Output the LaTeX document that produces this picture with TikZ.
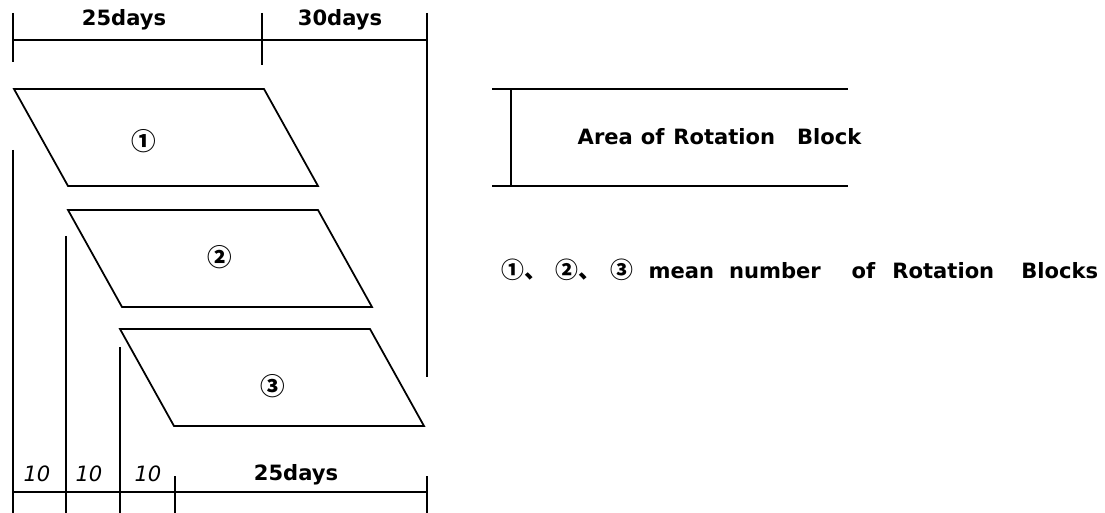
\documentclass[tikz,border=0pt]{standalone}
\usepackage{fontspec}
\setmainfont{DejaVu Sans}
\newfontfamily\cjk{Noto Sans CJK JP}
\usetikzlibrary{positioning}

\begin{document}
\begin{tikzpicture}[x=0.02cm, y=-0.02cm, line width=0.8pt,
    lbl/.style={font=\bfseries\fontsize{12}{14}\selectfont, inner sep=0pt},
    num/.style={font=\itshape\fontsize{12}{14}\selectfont, inner sep=0pt},
    circ/.style={font=\cjk\bfseries\fontsize{14}{16}\selectfont, inner sep=0pt},
    block/.style={line width=1pt},
    dim/.style={line width=0.6pt}]
  \useasboundingbox (0,0) rectangle (1105,513);
  % top dimension: 25days + 30days
  \draw (13,13) -- (13,62);
  \draw (262,13) -- (262,65);
  \draw (427,13) -- (427,377);
  \draw[dim] (13,40) -- (427,40);
  \node[lbl] (top25) at (124,20) {25days};
  \node[lbl] (top30) at (340,20) {30days};
  % rotation blocks
  \foreach \dx/\dy in {0/0, 54/121, 106/240} {
    \draw[block] (14+\dx,89+\dy) -- ++(250,0) -- ++(54,97) -- ++(-250,0) -- cycle;
  }
  \node[circ] (b1) at (144,141) {①};
  \node[circ] (b2) at (220,257) {②};
  \node[circ] (b3) at (273,386) {③};
  % left extension lines, 10 days apart
  \draw (13,150) -- (13,513);
  \draw (66,236) -- (66,513);
  \draw (120,347) -- (120,513);
  \draw (175,476) -- (175,513);
  \draw (427,476) -- (427,513);
  \draw[dim] (13,492) -- (427,492);
  \node[num] (d1) at (37,474) {10};
  \node[num] (d2) at (89,474) {10};
  \node[num] (d3) at (148,474) {10};
  \node[lbl] (bot25) at (296,475) {25days};
  % legend
  \draw (492,89) -- (848,89);
  \draw (492,186) -- (848,186);
  \draw (511,89) -- (511,186);
  \node[lbl, anchor=base west] (area) at (577,145)
    {Area\hspace{4.5pt}of\hspace{5pt}Rotation\hspace{12.5pt}Block};
  \node[lbl, anchor=base west] (mean) at (501,278)
    {{\cjk\fontsize{13}{15}\selectfont ①、\hspace{4.6pt}②、\hspace{5.5pt}③}\hspace{8.5pt}mean\hspace{8.5pt}number\hspace{17.6pt}of\hspace{9.7pt}Rotation\hspace{15.4pt}Blocks};
\end{tikzpicture}
\end{document}
